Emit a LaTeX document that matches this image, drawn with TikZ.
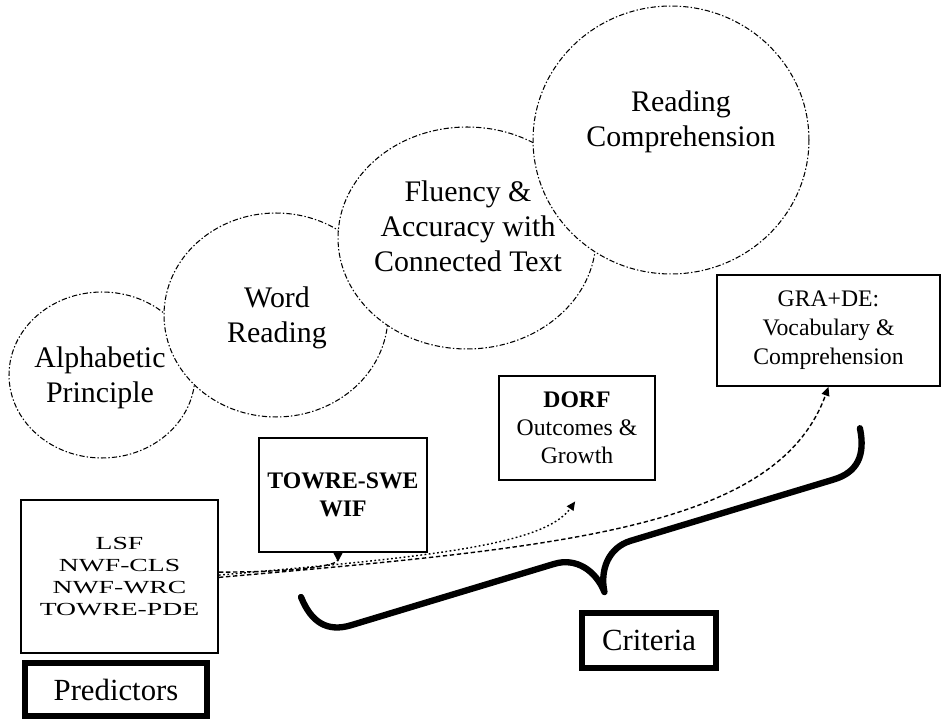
\documentclass[tikz,border=0pt]{standalone}
\usepackage{fontspec}
\setmainfont{Liberation Serif}
\newfontfamily\widefont[FakeStretch=1.5]{Liberation Serif}
\usetikzlibrary{arrows.meta,positioning,shapes.geometric,calc}

\begin{document}
\begin{tikzpicture}[x=0.02cm, y=-0.02cm,
  bubble/.style={draw, ellipse, fill=white, inner sep=0pt, line width=0.6pt,
    dash pattern=on 3pt off 1.2pt on 0.8pt off 1.2pt},
  bubtext/.style={align=center, font=\fontsize{17}{20}\selectfont},
  box/.style={draw, line width=1.1pt, align=center, inner sep=2pt},
  tag/.style={draw, line width=3.4pt, align=center, font=\fontsize{17.5}{20}\selectfont},
  link/.style={line width=0.8pt, dash pattern=on 2.5pt off 1.5pt},
  dotlink/.style={line width=0.8pt, dash pattern=on 1pt off 1.4pt},
  >={Triangle[length=5pt, width=4.5pt]}]
\useasboundingbox (0,0) rectangle (941,719);
% stages of reading, each one drawn over the one before
\node[bubble, minimum width=3.72cm, minimum height=3.32cm] (alpha) at (102,375) {};
\node[bubble, minimum width=4.48cm, minimum height=4.08cm] (word) at (276,315) {};
\node[bubble, minimum width=5.16cm, minimum height=4.44cm] (flu) at (467,238) {};
\node[bubble, minimum width=5.52cm, minimum height=5.36cm] (comp) at (671,140) {};
\node[bubtext] (alphatxt) at (100,378) {Alphabetic\\Principle};
\node[bubtext] (wordtxt) at (277,318) {Word\\Reading};
\node[bubtext] (flutxt) at (468,226) {Fluency \&\\Accuracy with\\Connected Text};
\node[bubtext] (comptxt) at (681,122) {Reading\\Comprehension};
% measures
\node[box, minimum width=3.94cm, minimum height=3.06cm,
  font=\widefont\fontsize{10.5}{12.5}\selectfont] (preds) at (119.5,576.5)
  {LSF\\NWF-CLS\\NWF-WRC\\TOWRE-PDE};
\node[box, minimum width=3.36cm, minimum height=2.28cm,
  font=\bfseries\fontsize{13.5}{16}\selectfont] (towre) at (343,495) {TOWRE-SWE\\WIF};
\node[box, minimum width=3.12cm, minimum height=2.08cm,
  font=\fontsize{13.5}{16}\selectfont] (dorf) at (577,428) {\textbf{DORF}\\Outcomes \&\\Growth};
\node[box, minimum width=4.46cm, minimum height=2.22cm,
  font=\fontsize{13.5}{16.5}\selectfont] (gra) at (828.5,330.5) {GRA+DE:\\Vocabulary \&\\Comprehension};
\node[tag, minimum width=3.64cm, minimum height=1.06cm] (predlab) at (116,689.5) {Predictors};
\node[tag, minimum width=2.69cm, minimum height=1.1cm] (critlab) at (649,640.5) {Criteria};
% links from the predictors
\draw[link, -{Triangle[reversed, length=5pt, width=5pt]}] ([yshift=2.5pt]preds.east)
  .. controls +(0:1.6cm) and +(-90:0.25cm) .. ([xshift=-0.1cm]towre.south);
\draw[dotlink, ->, shorten >=0.5cm] ([yshift=0.8pt]preds.east)
  .. controls +(5:4cm) and +(-125:1.6cm) .. ([xshift=0.25cm]dorf.south);
\draw[link, ->] ([yshift=-0.5pt]preds.east)
  .. controls +(5:7cm) and +(-110:3cm) .. (gra.south);
% brace over the criteria
\coordinate (bl) at (301,597);
\coordinate (br) at (860,428);
\begin{scope}[shift={(bl)}, rotate=16.8, x=1cm, y=1cm]
\draw[line width=3.6pt, line cap=round, line join=round] (0,0) .. controls (0.05,-0.55) and (0.3,-0.83) .. (0.8,-0.83)
  -- (5.04,-0.83) .. controls (5.5,-0.83) and (5.8,-1.2) .. (5.84,-1.66)
  .. controls (5.88,-1.2) and (6.18,-0.83) .. (6.64,-0.83)
  -- (10.88,-0.83) .. controls (11.38,-0.83) and (11.63,-0.55) .. (11.68,0);
\end{scope}
\end{tikzpicture}
\end{document}
